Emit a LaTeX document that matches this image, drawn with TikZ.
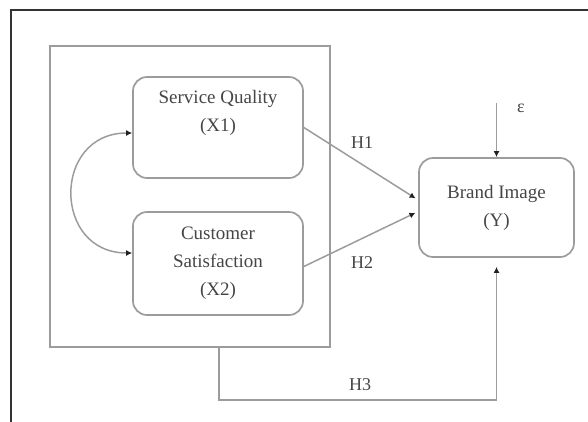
\documentclass[tikz,border=0pt]{standalone}
\usepackage{fontspec}
\setmainfont{Liberation Serif}
\usetikzlibrary{arrows.meta,calc}
\definecolor{linegray}{HTML}{9C9C9C}
\definecolor{textgray}{HTML}{454545}
\definecolor{framegray}{HTML}{333333}
\definecolor{tipgray}{HTML}{222222}
\tikzset{
  box/.style={draw=linegray,line width=1.7pt,rounded corners=14pt,inner sep=0pt},
  bigbox/.style={draw=linegray,line width=1.7pt,inner sep=0pt},
  txt/.style={text=textgray,align=center,font=\fontsize{19}{28}\selectfont},
  hlab/.style={text=textgray,font=\fontsize{18}{22}\selectfont},
  conn/.style={draw=linegray,line width=1.5pt},
  tip/.style={-{Latex[length=6pt,width=6pt,color=tipgray]}},
  dtip/.style={{Latex[length=6pt,width=6pt,color=tipgray]}-{Latex[length=6pt,width=6pt,color=tipgray]}},
}
\begin{document}
\begin{tikzpicture}[x=1pt,y=-1pt]
\useasboundingbox (0,0) rectangle (588,421);
\clip (0,0) rectangle (588,421);
% outer frame
\draw[draw=framegray,line width=1.6pt] (11,430) |- (600,10);
% big rectangle
\node[bigbox,minimum width=280pt,minimum height=301pt] (big) at (190,196.5) {};
% boxes
\node[box,minimum width=170pt,minimum height=101pt] (sq) at (218,127.5) {};
\node[txt] (sqt) at (218,113) {Service Quality\\(X1)};
\node[box,txt,minimum width=170pt,minimum height=103pt] (cs) at (218,263.5) {Customer\\Satisfaction\\(X2)};
\node[box,txt,minimum width=155pt,minimum height=99pt] (br) at (496.5,207.5) {Brand Image\\(Y)};
% correlation curve
\draw[conn,dtip] ($(sq.west)+(0,5.5)$) .. controls ($(sq.west)+(-80,5.5)$) and ($(cs.west)+(-80,-10.5)$) .. ($(cs.west)+(0,-10.5)$);
% H1, H2
\draw[conn,tip,shorten >=3pt] (sq.east) -- ($(br.west)+(0,-7.5)$);
\draw[conn,tip,shorten >=3pt] ($(cs.east)+(0,3)$) -- ($(br.west)+(0,4)$);
\node[hlab] (h1) at (362,143) {H1};
\node[hlab] (h2) at (362,263) {H2};
% epsilon
\coordinate (eps) at (496.5,103);
\draw[conn,tip] (eps) -- (br.north);
\node[hlab] (epsl) at (521,108) {ε};
% H3
\coordinate (h3s) at ([xshift=29pt]big.south);
\draw[conn,tip,shorten >=9pt] (h3s) -- ++(0,52) -| (br.south);
\node[hlab] (h3) at (360,385) {H3};
\end{tikzpicture}
\end{document}
